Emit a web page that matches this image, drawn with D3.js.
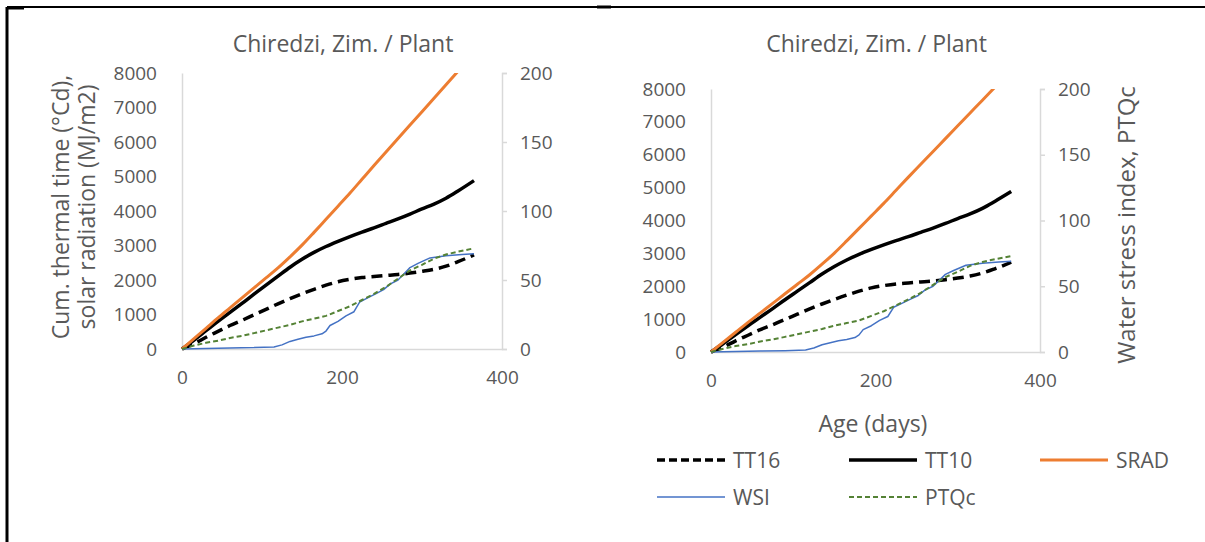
<!DOCTYPE html>
<html>
<head>
<meta charset="utf-8">
<script src="https://cdn.jsdelivr.net/npm/d3@7"></script>
<style>
  body { margin: 0; background: #fff; }
  text { font-family: "Open Sans", "Noto Sans", sans-serif; fill: #595959; }
</style>
</head>
<body>
<div id="canvas"></div>
<script>
"use strict"

let svgWidth = 1205;
let svgHeight = 542;

/* Data: days after planting */
let days = [0, 15, 30, 45, 60, 75, 90, 105, 120, 135, 150, 165, 180, 195, 210, 225, 240, 255, 270, 285, 300, 315, 330, 345, 365];
let tt16 = [0, 150, 340, 510, 680, 830, 990, 1150, 1310, 1460, 1600, 1730, 1850, 1950, 2020, 2070, 2100, 2130, 2160, 2200, 2250, 2310, 2400, 2530, 2730];
let tt10 = [0, 260, 530, 800, 1060, 1320, 1590, 1850, 2110, 2370, 2600, 2800, 2970, 3120, 3260, 3390, 3510, 3640, 3770, 3910, 4060, 4200, 4370, 4580, 4880];
let srad = [0, 300, 600, 900, 1190, 1480, 1770, 2060, 2350, 2670, 3010, 3380, 3760, 4140, 4520, 4920, 5320, 5710, 6100, 6490, 6880, 7270, 7660, 8050, 8560];
let ptqc = [0, 2.5, 4.5, 6, 8, 9.5, 11.5, 13.5, 15.5, 17.5, 20, 22, 24, 27.5, 31, 35.5, 40, 45, 51, 57, 61, 65.5, 68.5, 70.5, 73];

let wsiDays = [0, 30, 60, 90, 115, 125, 135, 145, 155, 165, 175, 180, 185, 195, 205, 215, 222, 232, 242, 252, 260, 270, 280, 285, 295, 310, 330, 350, 365];
let wsi = [0, 0.3, 0.8, 1, 1.5, 3, 5.5, 7, 8.5, 9.5, 11, 13, 17, 20, 24, 27, 34, 37, 40, 43, 47, 50, 56, 59, 62, 66, 67.5, 68.5, 69];

let leftTicks = [0, 1000, 2000, 3000, 4000, 5000, 6000, 7000, 8000];
let rightTicks = [0, 50, 100, 150, 200];
let xTicks = [0, 200, 400];

let seriesNames = ["TT16", "TT10", "SRAD", "WSI", "PTQc"];

/* series styles */
let styles = {
    TT16: {color: "black", width: 3.5, dash: "11,6"},
    TT10: {color: "black", width: 3.5, dash: null},
    SRAD: {color: "#ED7D31", width: 3, dash: null},
    WSI: {color: "#4472C4", width: 1.5, dash: null},
    PTQc: {color: "#548235", width: 2, dash: "5,3"}
};

let svg = d3.select("#canvas")
    .append("svg")
    .attr("width", svgWidth)
    .attr("height", svgHeight);

/* outer frame lines */
svg.append("line")
    .attr("x1", 7).attr("y1", 7).attr("x2", svgWidth).attr("y2", 7)
    .attr("stroke", "black").attr("stroke-width", 2);
svg.append("line")
    .attr("x1", 7).attr("y1", 7).attr("x2", 7).attr("y2", svgHeight)
    .attr("stroke", "black").attr("stroke-width", 3);
svg.append("line")
    .attr("x1", 7).attr("y1", 8).attr("x2", 24).attr("y2", 8)
    .attr("stroke", "black").attr("stroke-width", 3);
svg.append("line")
    .attr("x1", 597).attr("y1", 7).attr("x2", 611).attr("y2", 7)
    .attr("stroke", "black").attr("stroke-width", 3);

function drawChart(id, x0, x1, yTop, yBottom) {
    let xScale = d3.scaleLinear().domain([0, 400]).range([x0, x1]);
    let yLeft = d3.scaleLinear().domain([0, 8000]).range([yBottom, yTop]);
    let yRight = d3.scaleLinear().domain([0, 200]).range([yBottom, yTop]);

    let g = svg.append("g");

    /* clip */
    svg.append("clipPath")
        .attr("id", "clip" + id)
        .append("rect")
        .attr("x", x0 - 2)
        .attr("y", yTop)
        .attr("width", x1 - x0 + 4)
        .attr("height", yBottom - yTop + 2);

    /* title */
    g.append("text")
        .attr("x", (x0 + x1) / 2 + 1)
        .attr("y", 52)
        .attr("text-anchor", "middle")
        .style("font-size", "23px")
        .text("Chiredzi, Zim. / Plant");

    /* left axis */
    let la = g.append("g")
        .attr("transform", "translate(" + x0 + ",0)")
        .call(d3.axisLeft(yLeft).tickValues(leftTicks).tickSize(0).tickPadding(25).tickFormat(d3.format("d")));
    la.select(".domain").attr("stroke", "#d9d9d9").attr("stroke-width", 1.5);
    la.selectAll("text").style("font-size", "19px").style("font-family", "Open Sans").attr("fill", "#595959");

    /* right axis */
    let ra = g.append("g")
        .attr("transform", "translate(" + x1 + ",0)")
        .call(d3.axisRight(yRight).tickValues(rightTicks).tickSize(5).tickSizeOuter(5).tickPadding(13));
    ra.select(".domain").attr("stroke", "#d9d9d9").attr("stroke-width", 1.5);
    ra.selectAll("line").attr("stroke", "#d9d9d9").attr("stroke-width", 1.5);
    ra.selectAll("text").style("font-size", "19px").style("font-family", "Open Sans").attr("fill", "#595959");

    /* bottom axis */
    let ba = g.append("g")
        .attr("transform", "translate(0," + yBottom + ")")
        .call(d3.axisBottom(xScale).tickValues(xTicks).tickSize(0).tickSizeOuter(0).tickPadding(22));
    ba.select(".domain").attr("stroke", "#d9d9d9").attr("stroke-width", 1.5);
    ba.selectAll("text").style("font-size", "19px").style("font-family", "Open Sans").attr("fill", "#595959");

    let lineL = d3.line().curve(d3.curveMonotoneX).x(d => xScale(d[0])).y(d => yLeft(d[1]));
    let lineR = d3.line().x(d => xScale(d[0])).y(d => yRight(d[1]));

    let lines = [
        {name: "TT16", path: lineL(d3.zip(days, tt16))},
        {name: "TT10", path: lineL(d3.zip(days, tt10))},
        {name: "SRAD", path: lineL(d3.zip(days, srad))},
        {name: "WSI", path: lineR(d3.zip(wsiDays, wsi))},
        {name: "PTQc", path: lineR(d3.zip(days, ptqc))}
    ];

    g.append("g")
        .attr("clip-path", "url(#clip" + id + ")")
        .selectAll("path")
        .data(lines)
        .join("path")
        .attr("d", d => d.path)
        .attr("fill", "none")
        .attr("stroke", d => styles[d.name].color)
        .attr("stroke-width", d => styles[d.name].width)
        .attr("stroke-dasharray", d => styles[d.name].dash)
        .attr("stroke-linejoin", "round");

    return g;
}

drawChart("A", 182, 502, 73, 349);
drawChart("B", 711, 1040, 89, 352);

/* left chart y-axis title */
svg.append("text")
    .attr("transform", "translate(69,207) rotate(-90)")
    .attr("text-anchor", "middle")
    .style("font-size", "23px")
    .text("Cum. thermal time (°Cd),");
svg.append("text")
    .attr("transform", "translate(95,207) rotate(-90)")
    .attr("text-anchor", "middle")
    .style("font-size", "23px")
    .text("solar radiation (MJ/m2)");

/* right chart titles */
svg.append("text")
    .attr("transform", "translate(1135,225) rotate(-90)")
    .attr("text-anchor", "middle")
    .style("font-size", "24px")
    .text("Water stress index, PTQc");

svg.append("text")
    .attr("x", 873)
    .attr("y", 432)
    .attr("text-anchor", "middle")
    .style("font-size", "23px")
    .text("Age (days)");

/* legend */
let legendPos = [
    {x: 657, y: 460}, {x: 849, y: 460}, {x: 1040, y: 460},
    {x: 657, y: 497}, {x: 849, y: 497}
];

seriesNames.forEach(function(name, i) {
    let p = legendPos[i];
    let st = styles[name];
    svg.append("line")
        .attr("x1", p.x)
        .attr("y1", p.y)
        .attr("x2", p.x + 68)
        .attr("y2", p.y)
        .attr("stroke", st.color)
        .attr("stroke-width", st.width)
        .attr("stroke-dasharray", name == "TT16" ? "8,4" : st.dash);
    svg.append("text")
        .attr("x", p.x + 76)
        .attr("y", p.y + 8)
        .style("font-size", "21px")
        .text(name);
});
</script>
</body>
</html>
